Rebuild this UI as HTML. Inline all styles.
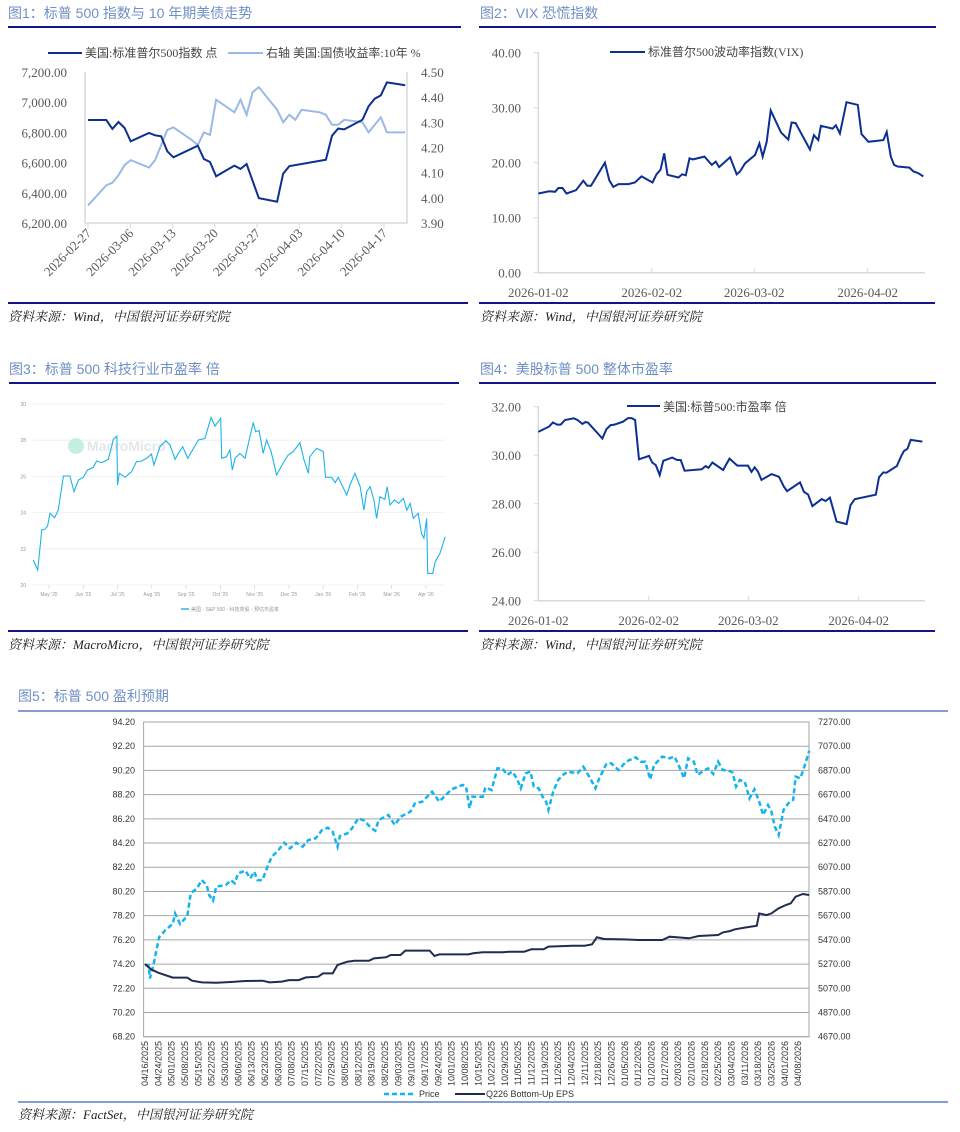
<!DOCTYPE html>
<html><head><meta charset="utf-8">
<style>
html,body{margin:0;padding:0;background:#fff;}
svg{display:block;font-family:"Liberation Sans","Noto Sans CJK SC",sans-serif;}
.ttl{font-size:14px;fill:#6f8fc4;}
.src{font-size:13px;fill:#222;font-style:italic;font-family:"Liberation Serif","Noto Serif CJK SC",serif;}
.tk{font-size:13px;fill:#595959;font-family:"Liberation Serif","Noto Serif CJK SC",serif;}
.lg{font-size:12px;fill:#444;font-family:"Liberation Serif","Noto Sans CJK SC",sans-serif;}
.sm{font-size:5px;fill:#999;}
.t5{font-size:9px;fill:#333;}
</style></head>
<body>
<svg id="page" width="960" height="1132" viewBox="0 0 960 1132" xmlns="http://www.w3.org/2000/svg">
<!-- Titles and frame lines -->
<g>
<text class="ttl" x="8" y="18">图1：标普 500 指数与 10 年期美债走势</text>
<line x1="8" y1="27" x2="461" y2="27" stroke="#14148a" stroke-width="2"/>
</g>
<g>
<text class="ttl" x="480" y="18">图2：VIX 恐慌指数</text>
<line x1="479" y1="27" x2="936" y2="27" stroke="#14148a" stroke-width="2"/>
</g>
<g>
<text class="ttl" x="9" y="374">图3：标普 500 科技行业市盈率 倍</text>
<line x1="9" y1="383" x2="459" y2="383" stroke="#14148a" stroke-width="2"/>
</g>
<g>
<text class="ttl" x="480" y="374">图4：美股标普 500 整体市盈率</text>
<line x1="479" y1="383" x2="936" y2="383" stroke="#14148a" stroke-width="2"/>
</g>
<g>
<text class="ttl" x="18" y="701">图5：标普 500 盈利预期</text>
<line x1="18" y1="711" x2="948" y2="711" stroke="#5b7fc4" stroke-width="1.5"/>
</g>
<!-- sources -->
<line x1="8" y1="303" x2="468" y2="303" stroke="#14148a" stroke-width="2"/>
<line x1="479" y1="303" x2="935" y2="303" stroke="#14148a" stroke-width="2"/>
<line x1="8" y1="631" x2="468" y2="631" stroke="#14148a" stroke-width="2"/>
<line x1="479" y1="631" x2="935" y2="631" stroke="#14148a" stroke-width="2"/>
<line x1="18" y1="1102" x2="948" y2="1102" stroke="#5b7fc4" stroke-width="1.5"/>
<text class="src" x="8" y="321">资料来源：Wind，中国银河证券研究院</text>
<text class="src" x="480" y="321">资料来源：Wind，中国银河证券研究院</text>
<text class="src" x="8" y="649">资料来源：MacroMicro，中国银河证券研究院</text>
<text class="src" x="480" y="649">资料来源：Wind，中国银河证券研究院</text>
<text class="src" x="18" y="1119">资料来源：FactSet，中国银河证券研究院</text>
<g id="c1"></g>
<g id="c2"></g>
<g id="c3"></g>
<g id="c4"></g>
<g id="c5"></g>
</svg>
<script>
// ---------- Chart 1 data ----------
const c1Labels = ["2026-02-27","2026-03-06","2026-03-13","2026-03-20","2026-03-27","2026-04-03","2026-04-10","2026-04-17"];
const c1LeftTicks = [6200,6400,6600,6800,7000,7200];
const c1RightTicks = [3.9,4.0,4.1,4.2,4.3,4.4,4.5];
const c1SpxDays = [0,3,4,5,6,7,10,11,12,13,14,18,19,20,21,24,25,26,28,31,32,33,39,40,41,42,45,46,47,48,49,52];
const c1SpxVals = [6882,6882,6823,6869,6829,6741,6796,6781,6774,6675,6635,6712,6624,6604,6509,6580,6558,6591,6365,6341,6527,6576,6619,6778,6825,6820,6884,6973,7023,7045,7131,7112];
const c1YldDays = [0,3,4,5,6,7,10,11,13,14,17,18,19,20,21,24,25,26,27,28,31,32,33,34,35,38,39,40,41,42,45,46,48,49,52];
const c1YldVals = [3.97,4.05,4.06,4.09,4.13,4.15,4.12,4.15,4.27,4.28,4.23,4.21,4.26,4.25,4.39,4.34,4.39,4.33,4.42,4.44,4.35,4.30,4.33,4.31,4.35,4.34,4.33,4.29,4.29,4.31,4.30,4.26,4.32,4.26,4.26];
// ---------- Chart 2 data ----------
const c2Labels = ["2026-01-02","2026-02-02","2026-03-02","2026-04-02"];
const c2LabelDays = [0,31,59,90];
const c2Ticks = [0,10,20,30,40];
const c2Days = [0,3,4.6,5.5,6.6,7.7,10.3,12.3,13.4,14.4,18.2,19.4,20.5,21.9,24.6,26.4,28.2,31.2,32.3,33.4,34.4,35.3,38.3,39.3,40.3,41.3,42.2,45.4,47.4,48.5,49.4,52.4,54.2,55.1,56.5,59.2,60.4,61.3,62.4,63.5,66.3,68.3,69.2,70.3,74.2,75.3,76.5,77.2,80.4,81.3,82.4,84.2,87.3,88.3,90.2,94.3,95.2,96.3,97.2,98.2,101.4,102.5,103.8,105.2];
const c2Vals = [14.4,14.8,14.7,15.4,15.4,14.4,15.0,16.7,15.8,15.8,20.0,16.8,15.6,16.1,16.1,16.4,17.5,16.4,17.9,18.7,21.7,17.8,17.3,17.9,17.7,20.8,20.6,21.1,19.6,20.2,19.2,21.0,17.9,18.4,19.9,21.4,23.5,21.1,23.8,29.5,25.5,24.2,27.3,27.2,22.4,25.0,24.1,26.7,26.2,26.8,25.3,31.0,30.5,25.2,23.8,24.1,25.6,21.1,19.6,19.3,19.1,18.4,18.1,17.5];
// ---------- Chart 3 data ----------
const c3Months = ["May '25","Jun '25","Jul '25","Aug '25","Sep '25","Oct '25","Nov '25","Dec '25","Jan '26","Feb '26","Mar '26","Apr '26"];
const c3Ticks = [20,22,24,26,28,30];
const c3X = [-0.46,-0.33,-0.21,-0.12,-0.04,0.03,0.16,0.27,0.42,0.61,0.73,0.86,1.0,1.12,1.29,1.39,1.54,1.73,1.88,1.98,2.0,2.05,2.22,2.41,2.55,2.70,2.85,2.99,3.06,3.24,3.41,3.53,3.68,3.77,3.90,4.05,4.16,4.36,4.55,4.73,4.84,5.01,5.04,5.18,5.28,5.35,5.43,5.57,5.72,5.96,6.03,6.13,6.25,6.35,6.48,6.64,6.84,6.98,7.13,7.32,7.44,7.57,7.61,7.81,8.0,8.07,8.25,8.35,8.44,8.69,8.78,8.93,9.08,9.19,9.27,9.37,9.48,9.56,9.66,9.80,9.87,9.95,10.08,10.2,10.34,10.44,10.54,10.63,10.77,10.87,10.94,11.02,11.05,11.20,11.27,11.41,11.56];
const c3Vals = [21.38,20.83,23.04,23.08,23.26,23.96,23.72,24.14,26.02,26.02,25.16,25.80,25.95,26.35,26.50,26.85,26.76,26.94,28.05,28.23,25.52,26.17,25.95,26.26,26.81,26.85,27.0,27.24,26.63,27.64,27.97,27.73,26.94,27.27,27.64,27.0,27.37,28.01,28.10,29.26,28.78,29.21,27.0,27.09,27.46,26.35,27.0,27.27,27.0,28.97,28.47,28.53,27.27,28.01,27.37,26.08,26.76,27.18,27.37,27.86,26.91,26.17,27.09,27.55,27.37,25.95,25.95,25.65,25.95,24.97,25.52,26.17,25.43,24.14,25.16,25.43,24.70,23.68,24.88,24.73,25.43,24.42,24.70,24.51,24.79,24.14,24.51,23.68,23.96,22.85,22.58,23.68,20.64,20.64,21.29,21.75,22.67];
// ---------- Chart 4 data ----------
const c4Labels = ["2026-01-02","2026-02-02","2026-03-02","2026-04-02"];
const c4LabelDays = [0,31,59,90];
const c4Ticks = [24,26,28,30,32];
const c4Days = [0,3,4.1,5.3,6.3,7.5,10,11,12.4,13.3,14,18,19.1,20.3,21.4,23.8,25.2,26.2,27.2,28.3,31.1,32,33,34.1,35.1,37.6,39,40,41.1,45.9,47,47.8,48.9,51.9,53.7,55.9,58.9,59.9,60.8,61.7,62.7,65.5,67.6,69,69.9,73.5,74.6,75.8,77,79.6,80.7,81.9,83.8,86.6,87.7,88.9,94.8,95.7,96.9,97.8,100.7,102,102.7,103.7,104.6,107.9];
const c4Vals = [30.96,31.18,31.35,31.26,31.26,31.45,31.52,31.45,31.29,31.37,31.34,30.69,31.07,31.24,31.26,31.38,31.53,31.53,31.45,29.83,29.97,29.70,29.59,29.18,29.77,29.90,29.80,29.80,29.36,29.42,29.55,29.48,29.70,29.39,29.86,29.57,29.57,29.31,29.50,29.32,28.98,29.22,29.11,28.70,28.52,28.88,28.49,28.38,27.90,28.19,28.11,28.25,27.26,27.16,27.94,28.19,28.37,29.09,29.29,29.28,29.55,29.98,30.17,30.27,30.63,30.56];
// ---------- Chart 5 data ----------
const c5Labels = ["04/16/2025","04/24/2025","05/01/2025","05/08/2025","05/15/2025","05/22/2025","05/30/2025","06/06/2025","06/13/2025","06/23/2025","06/30/2025","07/08/2025","07/15/2025","07/22/2025","07/29/2025","08/05/2025","08/12/2025","08/19/2025","08/26/2025","09/03/2025","09/10/2025","09/17/2025","09/24/2025","10/01/2025","10/08/2025","10/15/2025","10/22/2025","10/29/2025","11/05/2025","11/12/2025","11/19/2025","11/26/2025","12/04/2025","12/11/2025","12/18/2025","12/26/2025","01/05/2026","01/12/2026","01/20/2026","01/27/2026","02/03/2026","02/10/2026","02/18/2026","02/25/2026","03/04/2026","03/11/2026","03/18/2026","03/25/2026","04/01/2026","04/08/2026"];
const c5LeftTicks = [68.2,70.2,72.2,74.2,76.2,78.2,80.2,82.2,84.2,86.2,88.2,90.2,92.2,94.2];
const c5RightTicks = [4670,4870,5070,5270,5470,5670,5870,6070,6270,6470,6670,6870,7070,7270];
const c5PriceWeeks = [0,0.26,0.37,0.63,1.06,1.53,2.08,2.26,2.63,3.17,3.43,3.9,4.26,4.63,4.81,5.1,5.35,6.08,6.44,6.73,6.99,7.53,7.9,8.19,8.44,8.81,9.28,9.53,10.01,10.44,10.88,11.35,11.83,12.26,12.81,13.28,13.72,14.08,14.44,14.62,15.17,15.53,16.0,16.44,16.99,17.28,17.53,18.26,18.73,19.17,19.9,20.26,20.81,21.17,21.54,22.08,22.44,22.99,23.83,24.08,24.34,24.55,25.35,25.53,26.0,26.44,26.81,27.17,27.54,27.9,28.19,28.55,28.92,29.17,29.53,29.83,30.08,30.26,30.62,30.99,31.35,31.72,32.44,32.88,33.17,33.53,33.79,34.08,34.63,34.99,35.54,36.08,36.81,37.17,37.53,37.9,38.19,38.81,39.35,39.72,40.08,40.44,40.74,41.17,41.46,41.9,42.26,42.63,42.99,43.35,43.72,44.08,44.34,44.63,44.99,45.35,45.72,46.08,46.37,46.74,46.99,47.25,47.54,47.9,48.26,48.63,48.81,49.17,49.54,49.83];
const c5Price = [5262,5262,5152,5262,5491,5551,5601,5689,5601,5667,5854,5896,5964,5923,5841,5794,5910,5923,5964,5937,6020,6042,5978,6033,5964,5964,6102,6157,6212,6273,6226,6273,6240,6295,6309,6378,6397,6364,6240,6328,6350,6391,6474,6455,6391,6372,6460,6502,6419,6488,6529,6598,6612,6653,6694,6612,6653,6714,6750,6736,6557,6653,6653,6730,6708,6887,6887,6832,6860,6805,6722,6846,6860,6736,6722,6653,6612,6543,6694,6791,6832,6860,6846,6901,6846,6777,6722,6805,6928,6928,6873,6942,6978,6942,6942,6796,6915,6984,6970,6984,6901,6805,6970,6942,6832,6868,6887,6840,6942,6873,6873,6851,6736,6791,6777,6639,6714,6612,6502,6584,6529,6405,6336,6543,6598,6626,6818,6805,6928,7033];
const c5EpsWeeks = [0,0.44,0.99,2.08,3.17,3.53,4.26,5.35,6.44,7.53,8.81,9.35,10.26,10.81,11.53,12.08,12.99,13.35,14.08,14.44,15.17,15.72,16.81,17.17,18.08,18.44,19.17,19.53,21.35,21.72,22.08,24.26,24.63,25.35,26.81,27.35,28.44,28.99,29.9,30.26,32.08,32.99,33.53,33.9,34.44,35.9,36.99,38.81,39.35,40.81,41.54,42.99,43.35,43.9,44.26,44.99,45.9,46.08,46.63,46.99,47.54,48.08,48.45,48.81,49.35,49.83];
const c5Eps = [74.21,73.77,73.49,73.08,73.08,72.83,72.69,72.66,72.72,72.80,72.83,72.69,72.75,72.88,72.88,73.10,73.16,73.43,73.43,74.12,74.40,74.48,74.48,74.67,74.76,74.95,74.95,75.31,75.31,74.87,75.0,75.0,75.09,75.17,75.17,75.22,75.22,75.42,75.42,75.64,75.72,75.72,75.83,76.41,76.27,76.24,76.19,76.19,76.46,76.33,76.52,76.60,76.82,76.93,77.07,77.21,77.37,78.39,78.25,78.39,78.81,79.08,79.22,79.77,79.99,79.91];

const NS = "http://www.w3.org/2000/svg";
function mk(parent, tag, attrs, txt){
  const e = document.createElementNS(NS, tag);
  for (const k in attrs) e.setAttribute(k, attrs[k]);
  if (txt !== undefined) e.textContent = txt;
  parent.appendChild(e);
  return e;
}
function lin(d0,d1,r0,r1){ return v => r0 + (v-d0)/(d1-d0)*(r1-r0); }
function pts(xs, ys, fx, fy){ return xs.map((x,i)=>fx(x).toFixed(1)+","+fy(ys[i]).toFixed(1)).join(" "); }
const NAVY = "#0d2f91", LIGHT = "#9ab9e6";

// ===== Chart 1 =====
(function(){
  const g = document.getElementById('c1');
  const x = lin(0,7,88,384), yl = lin(6200,7200,223,72), yr = lin(3.9,4.5,223,72);
  mk(g,'path',{d:"M85 72 V223 H407 V72",fill:"none",stroke:"#d9d9d9","stroke-width":1.5});
  c1LeftTicks.forEach(v=>{
    const t = mk(g,'text',{class:'tk',x:67,y:yl(v)+5,'text-anchor':'end'}, v.toLocaleString('en-US',{minimumFractionDigits:2}));
    
    
  });
  c1RightTicks.forEach(v=>{
    const t = mk(g,'text',{class:'tk',x:421,y:yr(v)+5}, v.toFixed(2));
    
    
  });
  c1Labels.forEach((s,i)=>{
    const tx = lin(0,7,88,384)(i);
    mk(g,'line',{x1:tx,y1:223,x2:tx,y2:228,stroke:"#d9d9d9"});
    const t = mk(g,'text',{class:'tk',x:tx+4,y:234,'text-anchor':'end',transform:`rotate(-45 ${tx+4} 234)`}, s);
    
    
  });
  const dx = d => 88 + d*6.1;
  const l2 = mk(g,'polyline',{points:pts(c1YldDays,c1YldVals,dx,yr),fill:"none",stroke:LIGHT,"stroke-width":2});
  
  
  const l1 = mk(g,'polyline',{points:pts(c1SpxDays,c1SpxVals,dx,yl),fill:"none",stroke:NAVY,"stroke-width":2});
  
  
  mk(g,'line',{x1:48,y1:53,x2:82,y2:53,stroke:NAVY,"stroke-width":2});
  const a = mk(g,'text',{class:'lg',x:85,y:57},"美国:标准普尔500指数 点");
  
  
  mk(g,'line',{x1:228,y1:53,x2:263,y2:53,stroke:LIGHT,"stroke-width":2});
  const b = mk(g,'text',{class:'lg',x:266,y:57},"右轴 美国:国债收益率:10年 %");
  
  
})();

// ===== Chart 2 =====
(function(){
  const g = document.getElementById('c2');
  const y = lin(0,40,272.7,52.7), x = d => 538.3 + d*3.66;
  mk(g,'path',{d:"M538.3 52 V272.7 H925",fill:"none",stroke:"#d9d9d9","stroke-width":1.5});
  c2Ticks.forEach(v=>{
    mk(g,'line',{x1:534,y1:y(v),x2:538,y2:y(v),stroke:"#d9d9d9"});
    const t = mk(g,'text',{class:'tk',x:521,y:y(v)+5,'text-anchor':'end'}, v.toFixed(2));
    
    
  });
  c2Labels.forEach((s,i)=>{
    const tx = x(c2LabelDays[i]);
    mk(g,'line',{x1:tx,y1:268,x2:tx,y2:273,stroke:"#d9d9d9"});
    const t = mk(g,'text',{class:'tk',x:tx,y:297,'text-anchor':'middle'}, s);
    
    
  });
  const l = mk(g,'polyline',{points:pts(c2Days,c2Vals,x,y),fill:"none",stroke:NAVY,"stroke-width":2});
  
  
  mk(g,'line',{x1:610,y1:52,x2:645,y2:52,stroke:NAVY,"stroke-width":2});
  const t = mk(g,'text',{class:'lg',x:648,y:56},"标准普尔500波动率指数(VIX)");
  
  
})();

// ===== Chart 3 =====
(function(){
  const g = document.getElementById('c3');
  const y = lin(20,30,585,404), x = m => 49 + m*34.27;
  c3Ticks.forEach(v=>{
    mk(g,'line',{x1:33,y1:y(v),x2:445,y2:y(v),stroke:"#eeeeee","stroke-width":0.8});
    const t = mk(g,'text',{class:'sm',x:26,y:y(v)+2,'text-anchor':'end'}, String(v));
    
    
  });
  c3Months.forEach((s,i)=>{
    const tx = x(i);
    mk(g,'line',{x1:tx,y1:585,x2:tx,y2:589,stroke:"#cccccc","stroke-width":0.6});
    const t = mk(g,'text',{class:'sm',x:tx,y:596,'text-anchor':'middle'}, s);
    
    
  });
  mk(g,'circle',{cx:76,cy:446,r:8,fill:"#c5efe3"});
  const w = mk(g,'text',{x:87,y:451,'font-size':14,fill:"#e3e6ea",'font-weight':'bold'},"MacroMicro");
  
  
  const l = mk(g,'polyline',{points:pts(c3X,c3Vals,x,y),fill:"none",stroke:"#1bb3ea","stroke-width":1.1});
  
  
  mk(g,'line',{x1:181,y1:609,x2:189,y2:609,stroke:"#62c8ee","stroke-width":2});
  const t = mk(g,'text',{class:'sm',x:191,y:611,fill:"#555"},"美国 - S&P 500 - 科技类股 - 预估市盈率");
  
  
})();

// ===== Chart 4 =====
(function(){
  const g = document.getElementById('c4');
  const y = lin(24,32,600.7,406.7), x = d => 538.3 + d*3.56;
  mk(g,'path',{d:"M538.3 406 V600.7 H925",fill:"none",stroke:"#d9d9d9","stroke-width":1.5});
  c4Ticks.forEach(v=>{
    mk(g,'line',{x1:534,y1:y(v),x2:538,y2:y(v),stroke:"#d9d9d9"});
    const t = mk(g,'text',{class:'tk',x:521,y:y(v)+5,'text-anchor':'end'}, v.toFixed(2));
    
    
  });
  c4Labels.forEach((s,i)=>{
    const tx = x(c4LabelDays[i]);
    mk(g,'line',{x1:tx,y1:596,x2:tx,y2:601,stroke:"#d9d9d9"});
    const t = mk(g,'text',{class:'tk',x:tx,y:625,'text-anchor':'middle'}, s);
    
    
  });
  const l = mk(g,'polyline',{points:pts(c4Days,c4Vals,x,y),fill:"none",stroke:NAVY,"stroke-width":2});
  
  
  mk(g,'line',{x1:627,y1:406,x2:660,y2:406,stroke:NAVY,"stroke-width":2});
  const t = mk(g,'text',{class:'lg',x:663,y:411},"美国:标普500:市盈率 倍");
  
  
})();

// ===== Chart 5 =====
(function(){
  const g = document.getElementById('c5');
  const yl = lin(68.2,94.2,1036.7,722), yr = lin(4670,7270,1036.7,722), x = w => 145 + w*13.33;
  c5LeftTicks.forEach((v,i)=>{
    mk(g,'line',{x1:143.6,y1:yl(v),x2:809,y2:yl(v),stroke:"#a6a6a6","stroke-width":1});
    const t = mk(g,'text',{class:'t5',x:135,y:yl(v)+3,'text-anchor':'end'}, v.toFixed(2));
    
    
  });
  c5RightTicks.forEach(v=>{
    const t = mk(g,'text',{class:'t5',x:818,y:yr(v)+3}, v.toFixed(2));
    
    
  });
  mk(g,'rect',{x:143.6,y:722,width:665.4,height:314.7,fill:"none",stroke:"#a6a6a6","stroke-width":1});
  c5Labels.forEach((s,i)=>{
    const tx = x(i);
    const t = mk(g,'text',{class:'t5','font-size':8,x:tx+3,y:1041,'text-anchor':'end',transform:`rotate(-90 ${tx+3} 1041)`}, s);
    
    
  });
  const p = mk(g,'polyline',{points:pts(c5PriceWeeks,c5Price,x,yr),fill:"none",stroke:"#13b4ee","stroke-width":2.5,"stroke-dasharray":"5 3"});
  
  
  const e = mk(g,'polyline',{points:pts(c5EpsWeeks,c5Eps,x,yl),fill:"none",stroke:"#1f2d4e","stroke-width":2});
  
  
  mk(g,'line',{x1:384,y1:1094,x2:415,y2:1094,stroke:"#13b4ee","stroke-width":2.5,"stroke-dasharray":"5 3"});
  const a = mk(g,'text',{class:'t5',x:419,y:1097},"Price");
  
  
  mk(g,'line',{x1:455,y1:1094,x2:485,y2:1094,stroke:"#1f2d4e","stroke-width":2});
  const b = mk(g,'text',{class:'t5',x:486,y:1097},"Q226 Bottom-Up EPS");
  
  
})();
</script>
</body></html>
